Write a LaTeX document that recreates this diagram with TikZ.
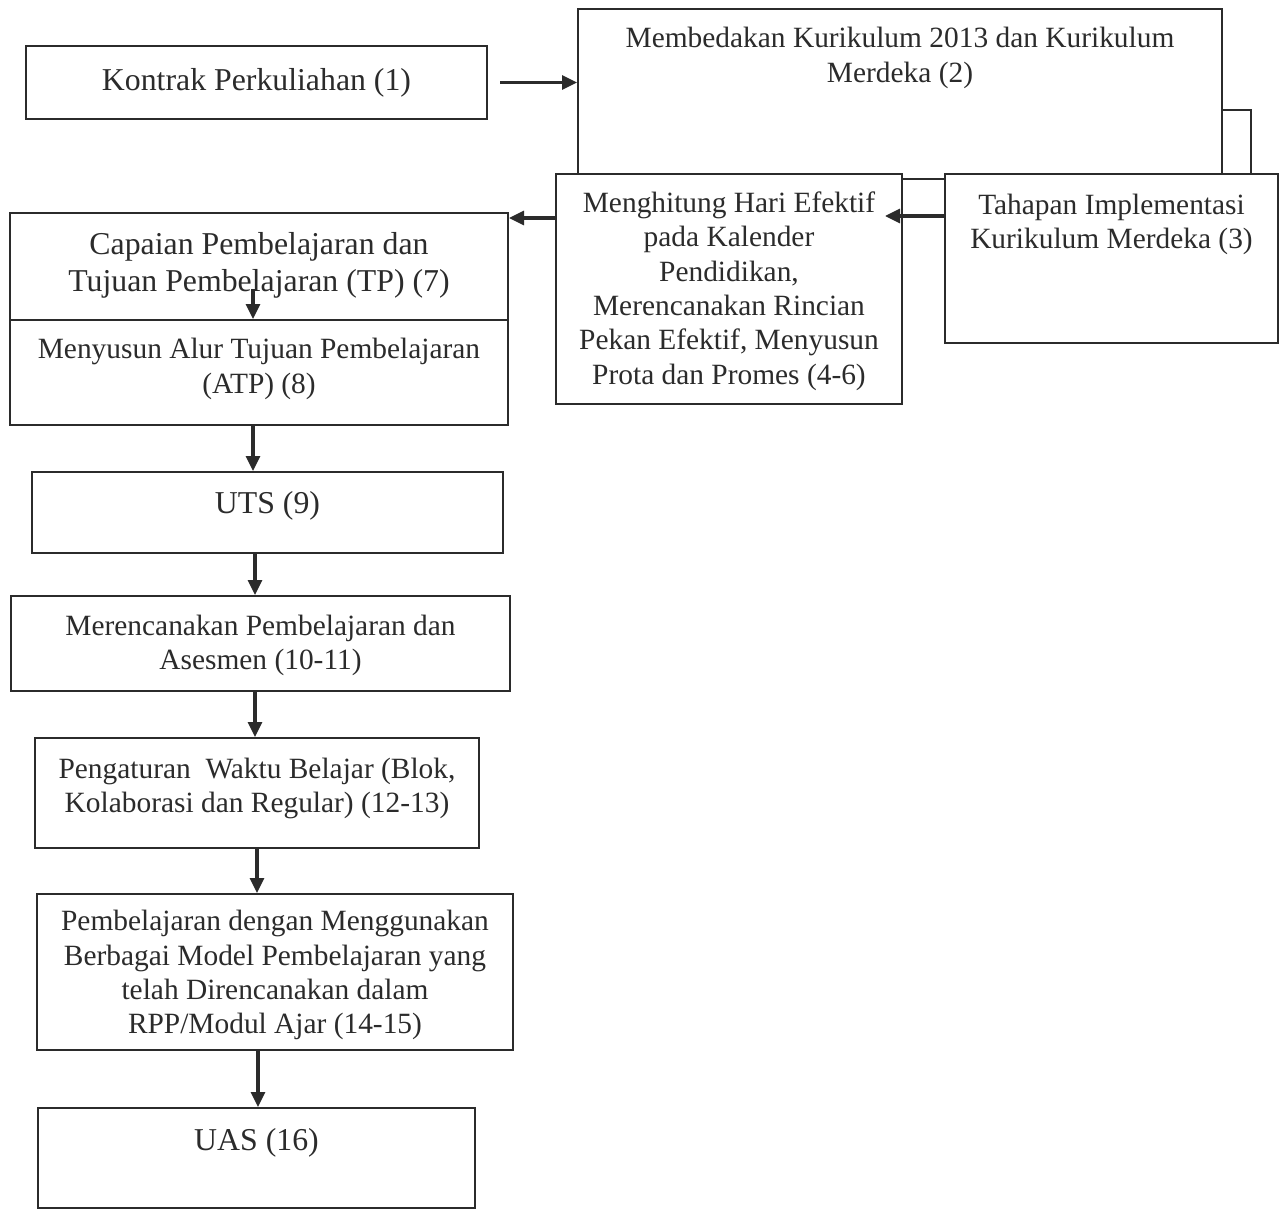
\documentclass[tikz,border=0pt]{standalone}
\usepackage{fontspec}
\setmainfont{Liberation Serif}
\usepackage{tikz}
\usetikzlibrary{
  positioning,
  calc,
  arrows.meta,
  }
\definecolor{ink}{HTML}{2B2B2B}
\newcommand{\boxfont}{\fontsize{14.7pt}{17.2pt}\selectfont}
\newcommand{\boxfontlarge}{\fontsize{15.9pt}{18.5pt}\selectfont}

\begin{document}
\begin{tikzpicture}[x=0.5pt, y=-0.5pt,
    every node/.style={rectangle, draw=ink, line width=1pt, fill=white, text=ink, align=center, inner sep=2pt, font=\boxfont},
    bigtext/.style={font=\boxfontlarge},
    arr/.style={draw=ink, line width=1.6pt, -{Triangle[length=7.5pt, width=7pt]}},
    link/.style={draw=ink, line width=1pt}]
  \useasboundingbox (0,0) rectangle (1279,1209);
  \coordinate (spine) at (255,0);
  \coordinate (bend) at (1251,110);
  \node[bigtext, minimum width=230.5pt, minimum height=36.5pt] (n1) at (256.5,82.5) {Kontrak Perkuliahan (1)};
  \node[minimum width=322pt, minimum height=85pt, text depth=39pt] (n2) at (900,94) {Membedakan Kurikulum 2013 dan Kurikulum\\Merdeka (2)};
  \node[minimum width=166.5pt, minimum height=84.5pt, text depth=37pt] (n3) at (1111.5,258.5) {Tahapan Implementasi\\Kurikulum Merdeka (3)};
  \node[minimum width=173pt, minimum height=115pt, text depth=1pt] (n4) at (729,289) {Menghitung Hari Efektif\\pada Kalender\\Pendidikan,\\Merencanakan Rincian\\Pekan Efektif, Menyusun\\Prota dan Promes (4-6)};
  \node[bigtext, minimum width=249pt, minimum height=53.5pt, text depth=5pt] (n7) at (259,266.5) {Capaian Pembelajaran dan\\Tujuan Pembelajaran (TP) (7)};
  \node[minimum width=249pt, minimum height=52.5pt, text depth=6.5pt] (n8) at (259,372.5) {Menyusun Alur Tujuan Pembelajaran\\(ATP) (8)};
  \node[bigtext, minimum width=235.5pt, minimum height=40.5pt, text depth=10.5pt] (n9) at (267.5,512.5) {UTS (9)};
  \node[minimum width=249.5pt, minimum height=47.5pt, text depth=1pt] (n10) at (260.5,643.5) {Merencanakan Pembelajaran dan\\Asesmen (10-11)};
  \node[minimum width=222pt, minimum height=55pt, text depth=8pt] (n12) at (257,793) {Pengaturan~ Waktu Belajar (Blok,\\Kolaborasi dan Regular) (12-13)};
  \node[minimum width=238pt, minimum height=78pt, text depth=0pt] (n14) at (275,972) {Pembelajaran dengan Menggunakan\\Berbagai Model Pembelajaran yang\\telah Direncanakan dalam\\RPP/Modul Ajar (14-15)};
  \node[bigtext, minimum width=218.5pt, minimum height=50pt, text depth=19pt] (n16) at (256.5,1158) {UAS (16)};

  \draw[arr, shorten <=6pt] (n1.east) -- (n1.east -| n2.west);
  \draw[link] (n2.east |- bend) -- (bend) -- (bend |- n3.north);
  \draw[arr, shorten >=-9pt] (n3.west |- 0,216) -- (n4.east |- 0,216);
  \draw[arr] (n4.west |- 0,218) -- (n7.east |- 0,218);
  \draw[arr] ($(n8.north -| spine)+(-2,-30)$) -- ($(n8.north -| spine)+(-2,0)$);
  \draw[arr] ($(n8.south -| spine)+(-2,0)$) -- ($(n9.north -| spine)+(-2,0)$);
  \draw[arr] (n9.south -| spine) -- (n10.north -| spine);
  \draw[arr] (n10.south -| spine) -- (n12.north -| spine);
  \draw[arr] ($(n12.south -| spine)+(2,0)$) -- ($(n14.north -| spine)+(2,0)$);
  \draw[arr] ($(n14.south -| spine)+(3,0)$) -- ($(n16.north -| spine)+(3,0)$);
\end{tikzpicture}
\end{document}
